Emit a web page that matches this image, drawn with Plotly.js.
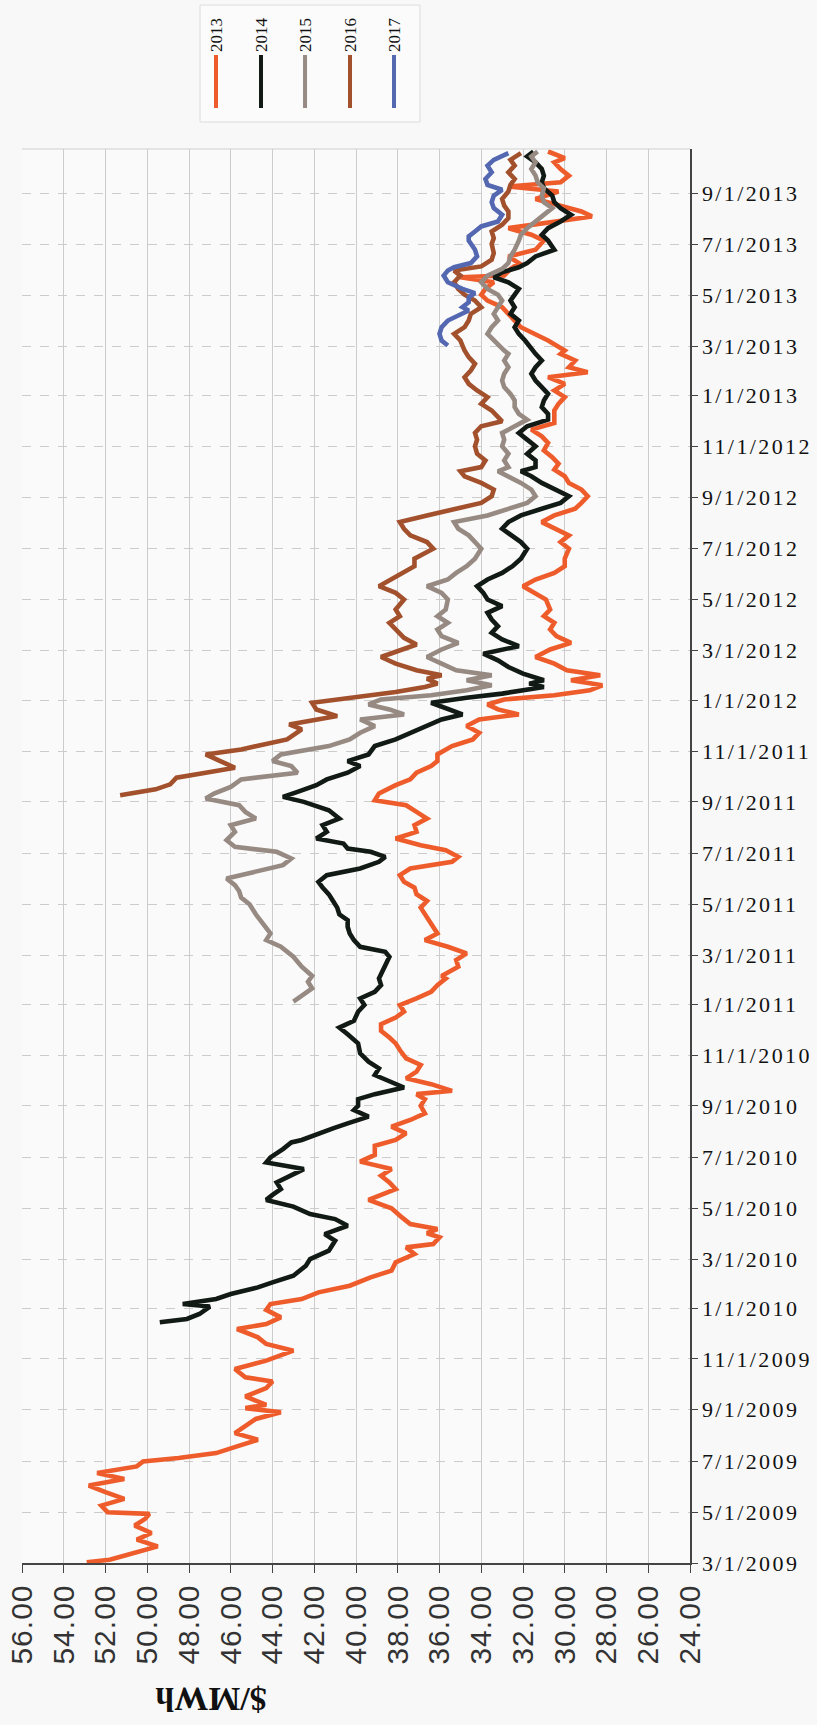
<!DOCTYPE html>
<html>
<head>
<meta charset="utf-8">
<script src="https://cdn.plot.ly/plotly-3.0.1.min.js"></script>
<style>
  html, body { margin:0; padding:0; background:#f8f8f8; }
  #chart { width:817px; height:1725px; }
  .ytick text { letter-spacing: 2.4px; }
  .xtick text { letter-spacing: 1px; }
</style>
</head>
<body>
<div id="chart"></div>
<script>
// ---- Series: calendar-year forward prices ($/MWh) by trade date ----
const d2013 = ["2009-03-02","2009-03-05","2009-03-09","2009-03-15","2009-03-21","2009-03-29","2009-04-06","2009-04-15","2009-04-23","2009-04-29",
"2009-05-01","2009-05-09","2009-05-17","2009-05-25","2009-06-02","2009-06-10","2009-06-17","2009-06-25","2009-07-01","2009-07-05",
"2009-07-11","2009-07-19","2009-07-27","2009-08-04","2009-08-12","2009-08-21","2009-08-29","2009-09-03","2009-09-07","2009-09-17",
"2009-09-27","2009-10-05","2009-10-10","2009-10-20","2009-10-30","2009-11-11","2009-11-19","2009-11-27","2009-12-07","2009-12-13",
"2009-12-21","2009-12-30","2010-01-06","2010-01-12","2010-01-20","2010-01-28","2010-02-07","2010-02-15","2010-02-25","2010-03-07",
"2010-03-15","2010-03-19","2010-03-27","2010-04-01","2010-04-06","2010-04-12","2010-04-20","2010-05-01","2010-05-11","2010-05-24",
"2010-06-01","2010-06-09","2010-06-17","2010-06-26","2010-07-04","2010-07-15","2010-07-22","2010-07-30","2010-08-07","2010-08-15",
"2010-08-23","2010-09-01","2010-09-09","2010-09-15","2010-09-19","2010-09-27","2010-10-04","2010-10-12","2010-10-20","2010-10-28",
"2010-11-07","2010-11-15","2010-11-22","2010-11-30","2010-12-08","2010-12-16","2010-12-23","2010-12-31","2011-01-08","2011-01-16",
"2011-01-24","2011-02-01","2011-02-04","2011-02-15","2011-02-23","2011-03-03","2011-03-11","2011-03-19","2011-03-27","2011-04-08",
"2011-04-19","2011-04-27","2011-05-05","2011-05-13","2011-05-21","2011-05-28","2011-06-05","2011-06-13","2011-06-21","2011-06-27",
"2011-07-05","2011-07-11","2011-07-19","2011-07-27","2011-08-04","2011-08-12","2011-08-20","2011-08-28","2011-09-03","2011-09-11",
"2011-09-21","2011-09-28","2011-10-06","2011-10-14","2011-10-20","2011-10-28","2011-11-07","2011-11-15","2011-11-23","2011-12-01",
"2011-12-09","2011-12-15","2011-12-21","2011-12-27","2012-01-02","2012-01-07","2012-01-13","2012-01-19","2012-01-25","2012-01-31",
"2012-02-06","2012-02-14","2012-02-22","2012-03-02","2012-03-10","2012-03-18","2012-03-26","2012-04-03","2012-04-11","2012-04-19",
"2012-05-01","2012-05-09","2012-05-17","2012-05-25","2012-06-02","2012-06-10","2012-06-19","2012-07-01","2012-07-09","2012-07-17",
"2012-07-25","2012-08-02","2012-08-10","2012-08-18","2012-08-25","2012-09-02","2012-09-10","2012-09-18","2012-09-26","2012-10-04",
"2012-10-11","2012-10-19","2012-10-27","2012-11-05","2012-11-13","2012-11-21","2012-11-29","2012-12-07","2012-12-14","2012-12-22",
"2012-12-30","2013-01-07","2013-01-15","2013-01-23","2013-01-29","2013-02-04","2013-02-12","2013-02-20","2013-02-24","2013-03-08",
"2013-03-16","2013-03-24","2013-04-01","2013-04-09","2013-04-17","2013-04-25","2013-05-02","2013-05-09","2013-05-17","2013-05-23",
"2013-05-25","2013-06-02","2013-06-09","2013-06-17","2013-06-25","2013-07-06","2013-07-13","2013-07-21","2013-07-29","2013-08-04",
"2013-08-10","2013-08-17","2013-08-25","2013-09-03","2013-09-09","2013-09-14","2013-09-22","2013-09-30","2013-10-08","2013-10-13",
"2013-10-21"];
const v2013 = [52.9,51.8,51.2,50.3,49.5,50.5,49.8,50.6,50.1,49.9,
51.9,52.2,51.1,52.0,52.8,51.1,52.4,50.5,50.2,48.5,
46.7,45.7,44.7,45.8,45.3,44.8,43.6,45.3,44.3,45.3,
44.3,44.0,45.3,45.8,44.3,43.0,44.3,44.7,45.7,44.3,
43.6,44.3,44.1,42.6,41.8,40.3,39.3,38.3,38.1,37.2,
37.6,36.3,36.0,36.6,36.1,37.4,37.8,38.3,39.4,38.1,
38.4,38.8,38.3,39.8,39.1,39.1,38.1,37.6,38.3,37.4,
36.7,36.9,36.7,37.1,35.4,36.4,37.6,37.1,36.9,37.6,
37.9,38.1,38.4,38.8,38.8,38.1,37.7,37.9,37.1,36.4,
36.1,35.7,35.9,35.1,35.2,34.7,35.6,36.7,36.1,36.4,
36.7,36.9,36.6,37.1,37.2,37.7,37.9,37.4,35.4,35.1,
35.7,36.9,38.1,37.1,37.2,36.6,37.1,37.6,39.1,38.9,
38.1,37.4,37.1,36.4,36.1,36.1,35.4,34.4,34.1,34.7,
34.1,32.2,33.2,33.7,32.9,30.5,28.8,28.2,29.7,28.3,
29.9,30.5,31.4,30.7,29.7,30.4,30.7,30.5,31.0,30.7,
30.9,31.5,32.0,31.4,30.5,30.0,30.0,29.8,30.2,29.8,
30.5,31.1,30.5,29.5,29.2,28.9,29.2,29.8,30.0,30.5,
30.3,30.6,31.0,30.8,31.1,31.6,30.5,30.5,30.5,30.3,
30.0,30.5,30.0,30.8,28.9,29.8,29.5,30.2,30.0,30.8,
31.4,32.1,32.4,32.7,33.0,33.7,34.0,33.8,33.4,35.0,
32.9,32.6,32.2,32.7,31.4,31.0,31.6,32.7,30.5,28.7,
29.2,30.2,31.4,30.3,32.7,30.2,29.8,30.2,30.5,30.0,
30.8];

const d2014 = ["2009-12-15","2009-12-19","2009-12-25","2010-01-03","2010-01-06","2010-01-12","2010-01-18","2010-01-26","2010-02-01","2010-02-09",
"2010-02-21","2010-03-01","2010-03-11","2010-03-23","2010-03-31","2010-04-10","2010-04-18","2010-04-24","2010-05-03","2010-05-11",
"2010-05-17","2010-05-24","2010-06-01","2010-06-09","2010-06-17","2010-06-25","2010-07-01","2010-07-11","2010-07-19","2010-07-22",
"2010-07-30","2010-08-05","2010-08-11","2010-08-19","2010-08-27","2010-09-01","2010-09-09","2010-09-15","2010-09-23","2010-09-30",
"2010-10-08","2010-10-16","2010-10-24","2010-11-03","2010-11-15","2010-11-26","2010-12-04","2010-12-12","2010-12-23","2010-12-31",
"2011-01-08","2011-01-16","2011-01-24","2011-02-01","2011-02-15","2011-02-27","2011-03-05","2011-03-11","2011-03-19","2011-03-27",
"2011-04-04","2011-04-12","2011-04-19","2011-04-27","2011-05-05","2011-05-13","2011-05-21","2011-05-28","2011-06-05","2011-06-13",
"2011-06-21","2011-06-27","2011-07-03","2011-07-07","2011-07-13","2011-07-19","2011-07-27","2011-08-04","2011-08-12","2011-08-22",
"2011-09-01","2011-09-07","2011-09-13","2011-09-21","2011-09-28","2011-10-06","2011-10-14","2011-10-20","2011-10-28","2011-11-07",
"2011-11-15","2011-11-23","2011-12-01","2011-12-09","2011-12-15","2011-12-21","2011-12-29","2012-01-04","2012-01-09","2012-01-17",
"2012-01-21","2012-01-25","2012-02-02","2012-02-10","2012-02-18","2012-02-26","2012-03-06","2012-03-14","2012-03-22","2012-03-30",
"2012-04-07","2012-04-15","2012-04-23","2012-05-01","2012-05-09","2012-05-17","2012-05-25","2012-06-02","2012-06-10","2012-06-19",
"2012-07-01","2012-07-09","2012-07-17","2012-07-25","2012-08-02","2012-08-10","2012-08-18","2012-08-25","2012-09-02","2012-09-10",
"2012-09-18","2012-09-26","2012-10-02","2012-10-07","2012-10-15","2012-10-23","2012-11-01","2012-11-09","2012-11-17","2012-11-25",
"2012-12-03","2012-12-10","2012-12-18","2012-12-26","2013-01-03","2013-01-11","2013-01-19","2013-01-27","2013-02-04","2013-02-12",
"2013-02-20","2013-03-08","2013-03-16","2013-03-24","2013-04-01","2013-04-09","2013-04-17","2013-04-25","2013-05-02","2013-05-09",
"2013-05-17","2013-05-23","2013-05-29","2013-06-04","2013-06-09","2013-06-17","2013-06-25","2013-07-06","2013-07-13","2013-07-21",
"2013-07-29","2013-08-06","2013-08-14","2013-08-21","2013-08-29","2013-09-07","2013-09-14","2013-09-22","2013-09-30","2013-10-08",
"2013-10-15","2013-10-21"];
const v2014 = [49.4,48.1,47.5,47.0,48.3,46.7,46.0,44.7,44.0,43.0,
42.4,42.2,41.3,41.0,41.5,40.4,41.0,42.2,43.0,44.3,
44.0,43.6,43.8,43.1,42.5,44.3,44.1,43.5,43.1,42.6,
41.8,41.1,40.4,39.4,40.1,39.9,39.9,39.1,37.7,38.3,
39.1,38.9,39.4,39.8,39.9,40.4,40.8,40.1,39.9,39.6,
39.8,39.1,38.8,38.9,38.6,38.4,38.6,39.8,40.1,40.3,
40.4,40.4,40.8,40.9,41.1,41.3,41.6,41.8,41.4,39.8,
38.9,38.6,39.3,40.4,40.6,41.9,41.4,41.6,40.8,41.3,
42.5,43.5,42.8,41.9,41.4,40.4,39.8,40.4,39.4,39.1,
38.1,37.4,36.7,35.9,34.9,35.6,36.4,34.7,33.0,31.0,
31.7,31.0,32.0,32.7,33.2,33.9,32.2,33.0,33.5,33.2,
33.5,33.7,33.0,33.7,33.9,34.2,33.7,33.0,32.5,32.1,
31.8,32.1,32.6,33.0,32.7,32.1,31.1,30.2,29.8,30.5,
31.1,31.6,32.1,31.4,31.4,31.8,31.4,31.8,32.2,31.8,
30.8,30.8,31.1,31.0,30.8,31.1,31.4,31.6,31.4,31.1,
31.4,31.9,32.2,32.4,32.2,32.6,32.4,32.6,32.4,32.2,
32.7,33.4,33.0,32.2,31.8,31.4,30.5,30.8,31.1,30.8,
30.2,29.7,30.2,30.5,30.6,31.0,31.1,31.0,31.1,31.4,
31.8,31.5];

const d2015 = ["2011-01-04","2011-01-12","2011-01-20","2011-01-28","2011-02-04","2011-02-15","2011-02-27","2011-03-11","2011-03-19","2011-03-27",
"2011-04-08","2011-04-19","2011-05-01","2011-05-09","2011-05-17","2011-05-24","2011-06-01","2011-06-09","2011-06-17","2011-06-25",
"2011-07-03","2011-07-09","2011-07-17","2011-07-27","2011-08-04","2011-08-12","2011-08-20","2011-08-28","2011-09-05","2011-09-11",
"2011-09-19","2011-09-28","2011-10-06","2011-10-14","2011-10-20","2011-10-28","2011-11-07","2011-11-15","2011-11-23","2011-12-01",
"2011-12-09","2011-12-15","2011-12-21","2011-12-27","2012-01-02","2012-01-07","2012-01-13","2012-01-19","2012-01-25","2012-01-31",
"2012-02-06","2012-02-14","2012-02-22","2012-03-02","2012-03-10","2012-03-18","2012-03-26","2012-04-03","2012-04-11","2012-04-19",
"2012-05-01","2012-05-09","2012-05-17","2012-05-25","2012-06-02","2012-06-10","2012-06-19","2012-07-01","2012-07-09","2012-07-17",
"2012-07-25","2012-08-02","2012-08-10","2012-08-18","2012-08-25","2012-09-02","2012-09-10","2012-09-18","2012-09-26","2012-10-02",
"2012-10-07","2012-10-15","2012-10-23","2012-11-01","2012-11-09","2012-11-17","2012-11-25","2012-12-03","2012-12-10","2012-12-18",
"2012-12-26","2013-01-03","2013-01-11","2013-01-19","2013-01-27","2013-02-04","2013-02-12","2013-02-20","2013-02-24","2013-03-08",
"2013-03-16","2013-03-24","2013-04-01","2013-04-09","2013-04-17","2013-04-25","2013-05-02","2013-05-09","2013-05-17","2013-05-25",
"2013-06-02","2013-06-09","2013-06-17","2013-06-25","2013-07-06","2013-07-13","2013-07-21","2013-07-29","2013-08-06","2013-08-14",
"2013-08-21","2013-08-29","2013-09-07","2013-09-14","2013-09-22","2013-09-30","2013-10-08","2013-10-15","2013-10-21"];
const v2015 = [43.0,42.5,42.1,42.3,42.1,42.6,43.0,43.6,44.3,44.1,
44.5,44.8,45.1,45.5,45.6,45.8,46.2,44.8,43.5,43.1,
43.8,45.8,46.2,45.8,46.0,44.8,45.3,45.6,47.2,46.8,
46.0,45.5,42.8,43.1,44.0,43.6,41.3,40.3,39.8,39.1,
39.8,37.7,38.4,39.4,38.8,36.4,34.7,33.5,34.7,33.5,
35.2,35.9,36.6,35.9,35.1,35.9,36.1,35.6,36.1,35.7,
35.6,35.9,36.6,35.6,35.2,34.7,34.3,34.0,34.3,34.6,
35.1,35.3,33.7,32.7,31.8,31.4,31.6,32.1,32.7,33.2,
32.7,32.9,32.7,33.0,32.9,33.0,32.4,31.8,32.2,32.4,
32.4,32.6,32.9,33.0,32.9,32.7,32.9,32.7,32.9,33.4,
33.7,33.5,33.2,33.4,33.2,33.0,33.2,33.7,34.0,33.7,
33.0,32.7,32.6,32.4,32.2,32.1,31.8,31.4,31.0,30.6,
31.0,31.1,31.0,31.3,31.4,31.6,31.4,31.6,31.3];

const d2016 = ["2011-09-09","2011-09-12","2011-09-16","2011-09-22","2011-09-30","2011-10-06","2011-10-12","2011-10-20","2011-10-28","2011-11-03",
"2011-11-09","2011-11-15","2011-11-27","2011-12-03","2011-12-13","2011-12-21","2011-12-29","2012-01-05","2012-01-11","2012-01-17",
"2012-01-21","2012-01-27","2012-01-31","2012-02-06","2012-02-14","2012-02-22","2012-02-28","2012-03-08","2012-03-16","2012-03-26",
"2012-04-03","2012-04-11","2012-04-19","2012-05-01","2012-05-09","2012-05-17","2012-05-25","2012-06-02","2012-06-10","2012-06-19",
"2012-07-01","2012-07-09","2012-07-17","2012-07-25","2012-08-02","2012-08-10","2012-08-18","2012-08-25","2012-09-02","2012-09-10",
"2012-09-18","2012-09-26","2012-10-02","2012-10-07","2012-10-15","2012-10-23","2012-11-01","2012-11-09","2012-11-17","2012-11-25",
"2012-12-01","2012-12-07","2012-12-14","2012-12-22","2012-12-30","2013-01-07","2013-01-15","2013-01-23","2013-01-31","2013-02-08",
"2013-02-16","2013-02-24","2013-03-08","2013-03-16","2013-03-24","2013-04-01","2013-04-09","2013-04-17","2013-04-25","2013-05-02",
"2013-05-09","2013-05-17","2013-05-25","2013-05-31","2013-06-05","2013-06-13","2013-06-21","2013-07-02","2013-07-09","2013-07-17",
"2013-07-25","2013-08-02","2013-08-10","2013-08-17","2013-08-25","2013-09-03","2013-09-11","2013-09-18","2013-09-26","2013-10-04",
"2013-10-11","2013-10-19"];
const v2016 = [51.3,50.6,49.6,48.9,48.6,47.2,45.8,46.5,47.2,45.5,
44.5,43.3,42.6,43.2,40.9,41.9,42.1,39.8,38.1,36.7,
36.1,36.6,35.9,37.1,38.1,38.8,38.1,37.1,37.7,38.1,
38.4,37.9,38.1,37.7,38.1,38.9,38.3,37.7,37.2,37.2,
36.3,36.6,37.4,37.7,37.9,36.6,35.3,34.0,33.5,33.4,
34.0,34.8,35.0,34.0,33.8,34.2,34.3,34.2,34.3,34.0,
33.0,33.2,33.5,34.0,33.7,34.2,34.6,34.8,34.5,34.3,
34.6,34.8,35.0,35.3,34.8,34.6,34.5,34.0,34.3,34.8,
35.1,35.3,35.0,35.3,34.0,33.5,33.4,33.5,33.4,33.5,
33.0,32.7,32.7,32.9,33.0,32.7,32.6,32.4,32.7,32.4,
32.6,32.1];

const d2017 = ["2013-03-02","2013-03-08","2013-03-16","2013-03-24","2013-04-01","2013-04-07","2013-04-13","2013-04-17","2013-04-23","2013-04-29",
"2013-05-04","2013-05-09","2013-05-17","2013-05-25","2013-05-31","2013-06-04","2013-06-09","2013-06-17","2013-06-25","2013-07-06",
"2013-07-11","2013-07-17","2013-07-23","2013-07-29","2013-08-06","2013-08-14","2013-08-21","2013-08-29","2013-09-05","2013-09-11",
"2013-09-18","2013-09-26","2013-10-04","2013-10-11","2013-10-19"];
const v2017 = [35.6,35.9,36.0,35.9,35.6,35.1,34.6,34.9,34.6,34.6,
34.3,34.9,35.6,35.8,35.6,35.3,34.5,34.2,34.3,34.6,
34.6,34.3,34.0,33.2,33.0,33.4,33.5,33.4,33.0,33.7,
33.8,33.5,33.7,33.4,32.7];

const seriesNames = ["2013","2014","2015","2016","2017"];
const seriesColors = ["#ee5c2b","#121a15","#968a83","#a3502d","#5468b2"];
const priceTicks = [56,54,52,50,48,46,44,42,40,38,36,34,32,30,28,26,24];
const priceTickText = ["56.00","54.00","52.00","50.00","48.00","46.00","44.00","42.00","40.00","38.00","36.00","34.00","32.00","30.00","28.00","26.00","24.00"];
const axisTitle = "$/MWh";

const allDates = [d2013,d2014,d2015,d2016,d2017];
const allVals = [v2013,v2014,v2015,v2016,v2017];

const traces = allDates.map((d,i) => ({
  type: "scatter", mode: "lines", name: seriesNames[i],
  x: allVals[i], y: d,
  line: {color: seriesColors[i], width: 4.6},
  showlegend: false, hoverinfo: "skip"
}));

// legend built from shapes + rotated annotations (paper coords)
const legX = [0.2904, 0.3578, 0.4237, 0.4910, 0.5569];
const shapes = [
  {type:"line", xref:"paper", yref:"paper", x0:0, x1:1, y0:1, y1:1, line:{color:"#cfcfcf", width:1}},
  {type:"rect", xref:"paper", yref:"paper", x0:0.2665, x1:0.5958, y0:1.0191, y1:1.1018,
   line:{color:"#dddddd", width:1}, fillcolor:"#fbfbfb", layer:"below"}
];
const annotations = [];
seriesNames.forEach((n,i) => {
  shapes.push({type:"line", xref:"paper", yref:"paper", x0:legX[i], x1:legX[i], y0:1.0290, y1:1.0665,
    line:{color:seriesColors[i], width:4}});
  annotations.push({xref:"paper", yref:"paper", x:legX[i], y:1.0806, text:n, showarrow:false,
    textangle:-90, xanchor:"center", yanchor:"middle",
    font:{family:"Liberation Serif", size:17, color:"#111"}});
});
annotations.push({xref:"paper", yref:"paper", x:0.282, y:-0.097, text:"<b>"+axisTitle+"</b>", showarrow:false,
  textangle:180, xanchor:"center", yanchor:"middle",
  font:{family:"Liberation Serif", size:34, color:"#111"}});

const layout = {
  width: 817, height: 1725,
  margin: {l:22, r:127, t:149, b:162},
  paper_bgcolor: "#f8f8f8", plot_bgcolor: "#fafafa",
  showlegend: false,
  xaxis: {
    range:[56,24], tickmode:"array", tickvals:priceTicks, ticktext:priceTickText,
    tickangle:-90, ticks:"outside", ticklen:8, tickcolor:"#444", tickwidth:1,
    showline:true, linecolor:"#444", linewidth:1.5,
    showgrid:true, gridcolor:"#cccccc", gridwidth:1, zeroline:false,
    tickfont:{family:"Liberation Sans", size:30, color:"#333"}
  },
  yaxis: {
    type:"date", range:["2009-03-01","2013-10-24"], side:"right",
    tick0:"2009-03-01", dtick:"M2", tickformat:"%-m/%-d/%Y",
    ticks:"outside", ticklen:6, tickcolor:"#444", tickwidth:1,
    showline:true, linecolor:"#444", linewidth:1.5,
    showgrid:true, gridcolor:"#cccccc", gridwidth:1, griddash:"dash", zeroline:false,
    tickfont:{family:"Liberation Serif", size:22, color:"#111"}
  },
  shapes: shapes,
  annotations: annotations
};

Plotly.newPlot("chart", traces, layout, {staticPlot:true, displayModeBar:false});
</script>
</body>
</html>
